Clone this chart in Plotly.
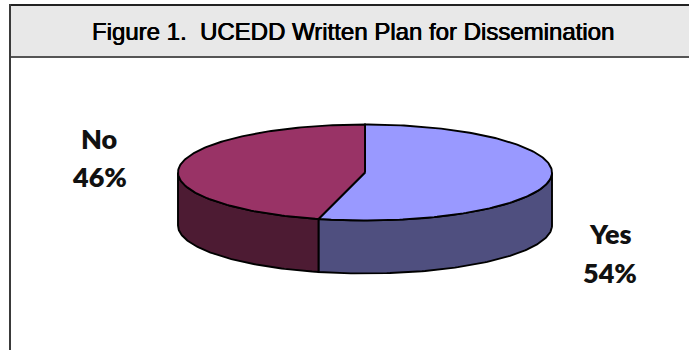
import numpy as np
import plotly.graph_objects as go

# Survey shares, in the order they run clockwise from twelve o'clock
categories = ["Yes", "No"]
shares = [54, 46]
top_colors = ["#9999FF", "#993366"]
side_colors = ["#4F4F7F", "#4D1B33"]
title = "Figure 1.  UCEDD Written Plan for Dissemination"

# Disc geometry in the page-sized axes
CX, CY, RX, RY, DEPTH = 365.0, 172.5, 187.0, 48.0, 53.0
FRONT_START, FRONT_END = 90.0, 270.0


def arc(start, end, drop=0.0):
    t = np.radians(np.linspace(start, end, max(int(abs(end - start)), 2) + 1))
    return CX + RX * np.sin(t), CY - RY * np.cos(t) + drop


def outlined(fig, xs, ys, color):
    fig.add_trace(go.Scatter(
        x=xs, y=ys, mode="lines", fill="toself", fillcolor=color,
        line=dict(color="#000000", width=1.9), hoverinfo="skip", showlegend=False,
    ))


fig = go.Figure()

edges = np.concatenate([[0], np.cumsum(shares)]) * 3.6

# Rim: only the part of each slice that faces the viewer
for a, b, color in zip(edges[:-1], edges[1:], side_colors):
    lo, hi = max(a, FRONT_START), min(b, FRONT_END)
    if lo < hi:
        x1, y1 = arc(lo, hi)
        x2, y2 = arc(hi, lo, DEPTH)
        outlined(fig, np.r_[x1, x2, x1[0]], np.r_[y1, y2, y1[0]], color)

# Top faces
for a, b, color in zip(edges[:-1], edges[1:], top_colors):
    x1, y1 = arc(a, b)
    outlined(fig, np.r_[CX, x1, CX], np.r_[CY, y1, CY], color)

# Slice labels: category name above its share
label_pos = {"Yes": (610, 233, 272.5), "No": (99, 138, 176.5)}
label_font = dict(family="Lato", size=27, color="#111111", weight=800)
for name, share in zip(categories, shares):
    px, py_name, py_share = label_pos[name]
    fig.add_annotation(x=px, y=py_name, xref="x", yref="y", showarrow=False,
                       text=name, font=label_font)
    fig.add_annotation(x=px, y=py_share, xref="x", yref="y", showarrow=False,
                       text=f"{share}%", font=label_font)

# Header band and frame
fig.add_shape(type="rect", x0=10, x1=689, y0=5, y1=57, layer="below",
              fillcolor="#E8E8E8", line=dict(width=0))
fig.add_shape(type="line", x0=9, x1=689, y0=5, y1=5, line=dict(color="#222222", width=2))
fig.add_shape(type="line", x0=10, x1=689, y0=57, y1=57, line=dict(color="#555555", width=2))
fig.add_shape(type="line", x0=10, x1=10, y0=4, y1=350, line=dict(color="#3A3A3A", width=2))

fig.add_annotation(
    x=353, y=31, xref="x", yref="y", showarrow=False, text=title,
    font=dict(family="Liberation Sans", size=24, color="#000000",
              shadow="0.35px 0 0 #000, -0.35px 0 0 #000"),
)

fig.update_layout(
    width=689, height=350, margin=dict(l=0, r=0, t=0, b=0),
    paper_bgcolor="#FFFFFF", plot_bgcolor="#FFFFFF", showlegend=False,
    xaxis=dict(range=[0, 689], visible=False, fixedrange=True),
    yaxis=dict(range=[350, 0], visible=False, fixedrange=True),
)

fig.write_html("out.html", config={"displayModeBar": False})
